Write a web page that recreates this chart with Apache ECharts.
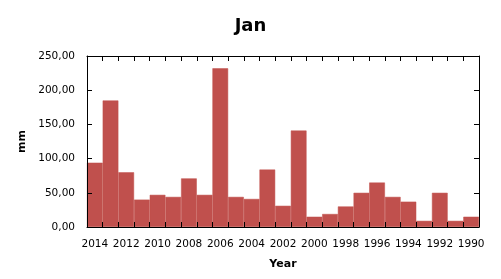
<!DOCTYPE html>
<html>
<head>
<meta charset="utf-8">
<script src="https://cdn.jsdelivr.net/npm/echarts@6/dist/echarts.min.js"></script>
<style>
  html, body { margin: 0; padding: 0; background: #fff; }
  #chart { width: 501px; height: 279px; }
</style>
</head>
<body>
<div id="chart"></div>
<script>
// years, newest first (as in the source)
const years = [
  '2014', '2013', '2012', '2011', '2010', '2009', '2008', '2007', '2006',
  '2005', '2004', '2003', '2002', '2001', '2000', '1999', '1998', '1997',
  '1996', '1995', '1994', '1993', '1992', '1991', '1990',
];
// January precipitation, mm
const rainfall = [
  94, 185, 80, 40, 47, 44, 71, 47, 232,
  44, 41, 84, 31, 141, 15, 19, 30, 50,
  65, 44, 37, 9, 50, 9, 15,
];

const FONT = 'DejaVu Sans';
const BAR_COLOR = '#c0504d';

function commaFmt(v) {
  return v.toFixed(2).replace('.', ',');
}

const chart = echarts.init(document.getElementById('chart'), null, { renderer: 'canvas' });

// hidden twin axes give the inward ticks on the top and right edges
const lineStyle = { show: true, onZero: false, lineStyle: { color: '#000', width: 1 } };
const tickStyle = { show: true, inside: true, length: 5, lineStyle: { color: '#000', width: 1 } };

const option = {
  animation: false,
  title: {
    text: 'Jan',
    left: 'center',
    top: 12,
    textStyle: { fontFamily: FONT, fontSize: 18, fontWeight: 'bold', color: '#000' },
  },
  grid: {
    left: 87, right: 22, top: 56, bottom: 52,
  },
  xAxis: [
    {
      type: 'category',
      data: years,
      z: 5,
      name: 'Year',
      nameLocation: 'middle',
      nameGap: 32,
      nameTextStyle: { fontFamily: FONT, fontSize: 11, fontWeight: 'bold', color: '#000' },
      axisLine: lineStyle,
      axisTick: { ...tickStyle, interval: 0 },
      axisLabel: {
        interval: 1, margin: 12, fontFamily: FONT, fontSize: 10.5, color: '#000',
      },
      splitLine: { show: false },
    },
    {
      type: 'category',
      data: years,
      position: 'top',
      z: 5,
      axisLine: lineStyle,
      axisTick: { ...tickStyle, interval: 0 },
      axisLabel: { show: false },
      splitLine: { show: false },
    },
  ],
  yAxis: [
    {
      type: 'value',
      min: 0,
      max: 250,
      interval: 50,
      z: 5,
      name: 'mm',
      nameLocation: 'middle',
      nameGap: 53,
      nameTextStyle: { fontFamily: FONT, fontSize: 11, fontWeight: 'bold', color: '#000' },
      axisLine: lineStyle,
      axisTick: tickStyle,
      axisLabel: {
        margin: 12, fontFamily: FONT, fontSize: 10.5, color: '#000', formatter: commaFmt,
      },
      splitLine: { show: false },
    },
    {
      type: 'value',
      min: 0,
      max: 250,
      interval: 50,
      position: 'right',
      z: 5,
      axisLine: lineStyle,
      axisTick: tickStyle,
      axisLabel: { show: false },
      splitLine: { show: false },
    },
  ],
  series: [
    {
      type: 'bar',
      data: rainfall,
      barCategoryGap: 0,
      itemStyle: { color: BAR_COLOR, borderColor: BAR_COLOR, borderWidth: 0.5 },
    },
  ],
};

chart.setOption(option);
</script>
</body>
</html>
